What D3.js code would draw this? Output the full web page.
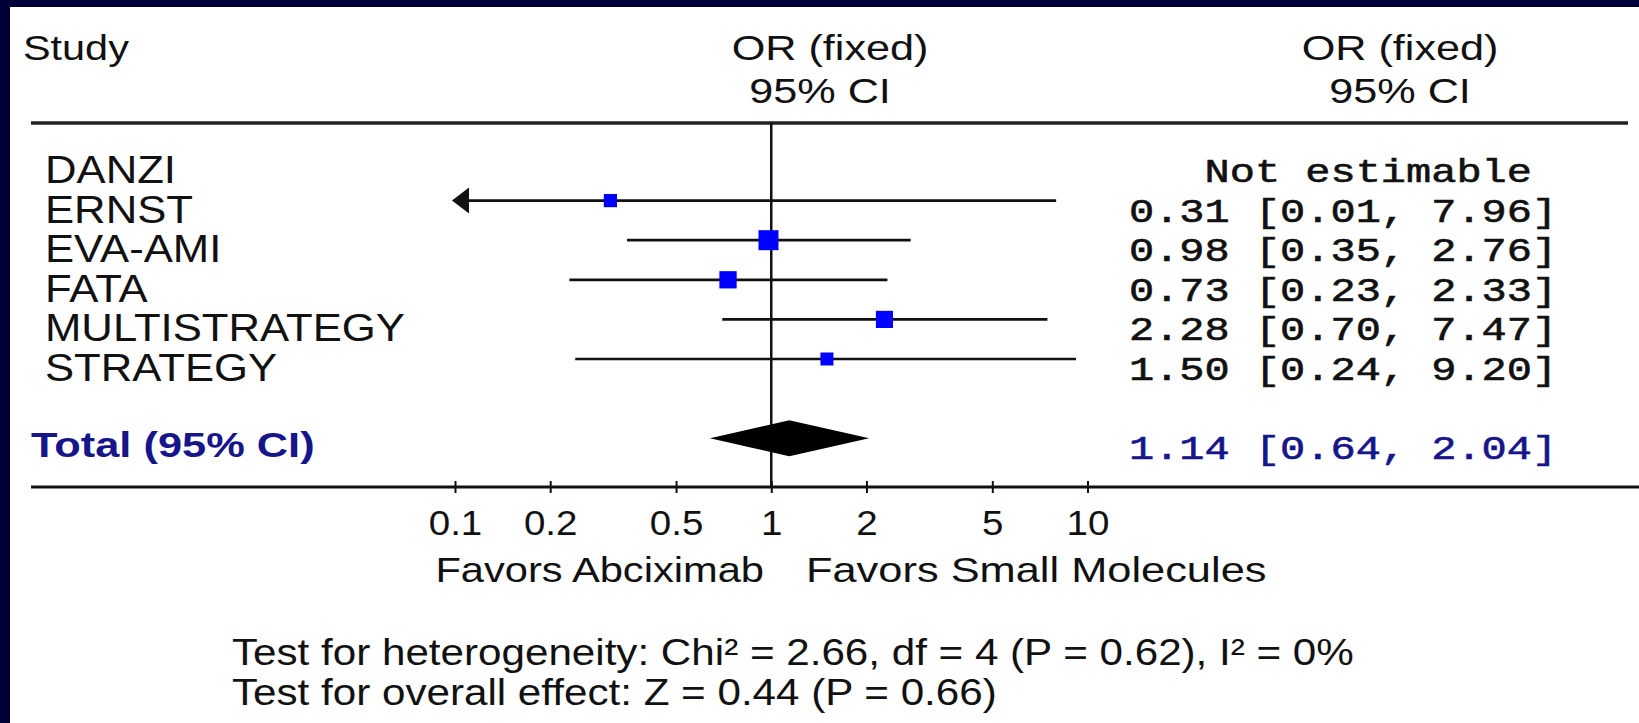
<!DOCTYPE html>
<html>
<head>
<meta charset="utf-8">
<script src="https://cdnjs.cloudflare.com/ajax/libs/d3/7.8.5/d3.min.js"></script>
<style>
  body { margin: 0; background: #fff; }
  svg { display: block; }
  text { font-family: "Liberation Sans", Arial, Helvetica, sans-serif; fill: #111; }
  text.mono { font-family: "Liberation Mono", "Courier New", monospace; white-space: pre; }
</style>
</head>
<body>
<svg></svg>
<script>
// study rows
const studies = ['DANZI', 'ERNST', 'EVA-AMI', 'FATA', 'MULTISTRATEGY', 'STRATEGY'];
const oddsRatio = [null, 0.31, 0.98, 0.73, 2.28, 1.50];
const ciLower = [null, 0.01, 0.35, 0.23, 0.70, 0.24];
const ciUpper = [null, 7.96, 2.76, 2.33, 7.47, 9.20];
// weights guessed from the box sizes
const weights = [null, 10.5, 34, 23, 22.5, 10];

const totalLabel = 'Total (95% CI)';
const totalOR = 1.14;
const totalLower = 0.64;
const totalUpper = 2.04;

const tickValues = [0.1, 0.2, 0.5, 1, 2, 5, 10];
const headerLeft = ['OR (fixed)', '95% CI'];
const headerRight = ['OR (fixed)', '95% CI'];
const favours = ['Favors Abciximab', 'Favors Small Molecules'];
const footnotes = [
    'Test for heterogeneity: Chi\u00b2 = 2.66, df = 4 (P = 0.62), I\u00b2 = 0%',
    'Test for overall effect: Z = 0.44 (P = 0.66)'
];

let width = 1639;
let height = 723;
let navy = '#000038';
let blue = '#0000ff';
let darkBlue = '#16168a';

let svg = d3.select('svg')
            .attr('width', width)
            .attr('height', height);

// slide frame
svg.append('rect').attr('width', width).attr('height', height).attr('fill', navy);
svg.append('rect').attr('x', 10).attr('y', 7)
    .attr('width', width - 10).attr('height', height - 7).attr('fill', '#fff');

let x = d3.scaleLog()
            .domain([0.1, 10])
            .range([455, 1087.5])
            .clamp(true);

let y = d3.scalePoint()
            .domain(studies)
            .range([161, 359]);

let totalY = y(studies[studies.length - 1]) + y.step() * 2;

let size = d3.scaleSqrt()
            .domain([10, 34])
            .range([13, 20]);

function label(g, px, py, str, fs, sx, anchor) {
    return g.append('text')
        .attr('transform', `translate(${px},${py}) scale(${sx},1)`)
        .attr('text-anchor', anchor || 'start')
        .style('font-size', fs + 'px')
        .text(str);
}

function mono(g, py, str, colour) {
    // courier-ish: narrow font stretched out to the wide advance
    return g.append('text').attr('class', 'mono')
        .attr('transform', `translate(1129,${py}) scale(1.235,1)`)
        .style('font-size', '34px')
        .style('fill', colour || '#111')
        .style('stroke', colour || '#111')
        .style('stroke-width', 0.6)
        .text(str);
}

let g = svg.append('g');

// header
label(g, 23, 60, 'Study', 36, 1.15);
label(g, 830, 60, headerLeft[0], 36, 1.2, 'middle');
label(g, 820, 103, headerLeft[1], 36, 1.2, 'middle');
label(g, 1400, 60, headerRight[0], 36, 1.2, 'middle');
label(g, 1400, 103, headerRight[1], 36, 1.2, 'middle');

g.append('line')
    .attr('x1', 31).attr('x2', 1628)
    .attr('y1', 123).attr('y2', 123)
    .attr('stroke', '#222').attr('stroke-width', 3.5);

// bottom rule + axis
let axisY = 487;
g.append('line')
    .attr('x1', 31).attr('x2', width)
    .attr('y1', axisY).attr('y2', axisY)
    .attr('stroke', '#111').attr('stroke-width', 3);

let axis = d3.axisBottom(x)
            .tickValues(tickValues)
            .tickFormat(d3.format(''))
            .tickSize(12)
            .tickPadding(17);

let axisG = g.append('g')
    .attr('transform', `translate(0, ${axisY - 6})`)
    .call(axis);
axisG.select('.domain').remove();
axisG.selectAll('.tick line').attr('stroke', '#111').attr('stroke-width', 2);
axisG.selectAll('.tick text')
    .attr('fill', '#111')
    .attr('font-family', '"Liberation Sans", Arial, sans-serif')
    .attr('font-size', 35)
    .attr('transform', 'scale(1.1,1)');

// line of no effect
g.append('line')
    .attr('x1', x(1)).attr('x2', x(1))
    .attr('y1', 123).attr('y2', axisY)
    .attr('stroke', '#111').attr('stroke-width', 2.5);

let f = d3.format('.2f');

// studies
studies.forEach((name, i) => {
    let cy = y(name);
    label(g, 45, cy + 22, name, 39, 1.12);

    if (oddsRatio[i] == null) {
        mono(g, cy + 21, '   Not estimable');
        return;
    }

    let lo = ciLower[i], hi = ciUpper[i];
    let xl = x(lo), xh = x(hi);
    let clipped = lo < x.domain()[0];
    g.append('line')
        .attr('x1', clipped ? xl + 10 : xl).attr('x2', xh)
        .attr('y1', cy).attr('y2', cy)
        .attr('stroke', '#111').attr('stroke-width', 2.7);
    if (clipped) {
        let tip = xl - 3;
        g.append('path')
            .attr('d', `M${tip},${cy} L${tip + 17},${cy - 13} L${tip + 17},${cy + 13} Z`)
            .attr('fill', '#111');
    }

    let s = size(weights[i]);
    g.append('rect')
        .attr('x', x(oddsRatio[i]) - s / 2)
        .attr('y', cy - s / 2)
        .attr('width', s).attr('height', s)
        .attr('fill', blue);

    mono(g, cy + 21, `${f(oddsRatio[i])} [${f(lo)}, ${f(hi)}]`);
});

// total
label(g, 31, totalY + 19, totalLabel, 35, 1.24)
    .attr('font-weight', 'bold')
    .style('fill', darkBlue);

g.append('path')
    .attr('d', `M${x(totalLower)},${totalY} L${x(totalOR)},${totalY - 18} L${x(totalUpper)},${totalY} L${x(totalOR)},${totalY + 18} Z`)
    .attr('fill', '#000');

mono(g, totalY + 21, `${f(totalOR)} [${f(totalLower)}, ${f(totalUpper)}]`, darkBlue);

// favours labels
label(g, 764, 582, favours[0], 35, 1.19, 'end');
label(g, 806, 582, favours[1], 35, 1.24);

// footnotes
footnotes.forEach((t, i) => {
    label(g, 232, 665 + i * 40, t, 37, 1.14);
});
</script>
</body>
</html>
